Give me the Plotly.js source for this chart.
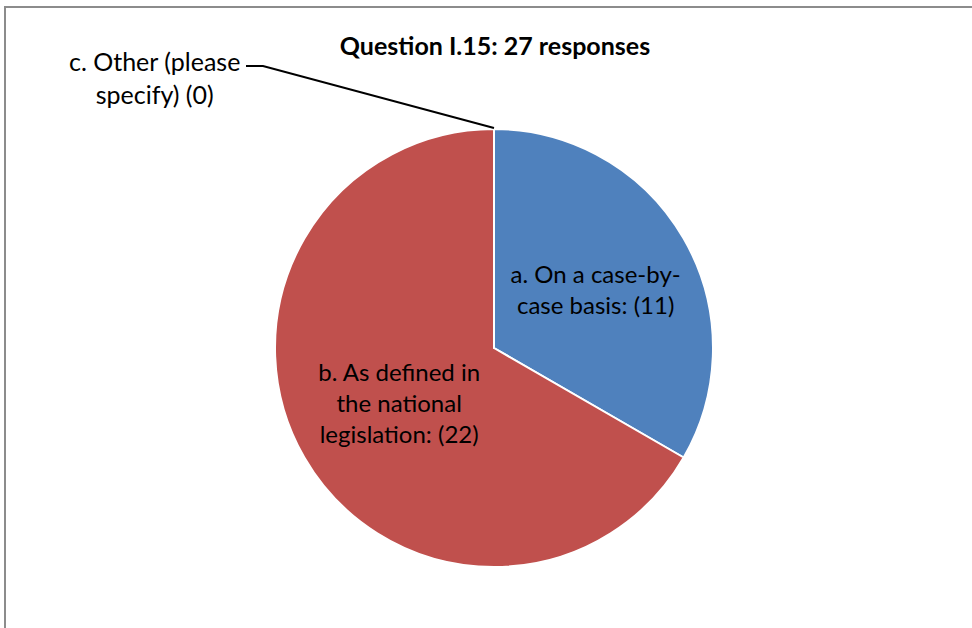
<!DOCTYPE html>
<html>
<head>
<meta charset="utf-8">
<script src="https://cdn.plot.ly/plotly-3.0.1.min.js"></script>
<style>
  html, body { margin: 0; padding: 0; background: #fff; }
  #chart { width: 972px; height: 628px; }
</style>
</head>
<body>
<div id="chart"></div>
<script>
// Question I.15 answers
const categories = ['a. On a case-by-case basis', 'b. As defined in the national legislation', 'c. Other (please specify)'];
const counts = [11, 22, 0];
const sliceText = ['a. On a case-by-<br>case basis: (11)', 'b. As defined in<br>the national<br>legislation: (22)', ''];
const otherLabel = 'c. Other (please<br>specify) (0)';
const chartTitle = 'Question I.15: 27 responses';

const W = 972, H = 628;
const px = (x) => x / W;
const py = (y) => 1 - y / H;
const FONT = 'Lato, "Open Sans", sans-serif';

const data = [{
    type: 'pie',
    labels: categories,
    values: counts,
    text: sliceText,
    textinfo: 'text',
    textposition: 'inside',
    insidetextorientation: 'horizontal',
    sort: false,
    direction: 'clockwise',
    rotation: 0,
    hoverinfo: 'label+value',
    marker: {
        colors: ['#4F81BD', '#C0504D', '#9BBB59'],
        line: { color: '#ffffff', width: 2 }
    },
    insidetextfont: { family: FONT, size: 24, color: '#000' },
    domain: { x: [px(275), px(713)], y: [py(567), py(129)] }
}];

const layout = {
    width: W,
    height: H,
    margin: { l: 0, r: 0, t: 0, b: 0 },
    paper_bgcolor: '#fff',
    showlegend: false,
    title: {
        text: '<b>' + chartTitle + '</b>',
        font: { family: FONT, size: 25, color: '#000' },
        x: px(495), xanchor: 'center',
        y: py(46), yanchor: 'middle',
        xref: 'paper', yref: 'paper'
    },
    annotations: [{
        text: otherLabel,
        x: px(154), y: py(77),
        xref: 'paper', yref: 'paper',
        xanchor: 'center', yanchor: 'middle',
        showarrow: false,
        align: 'center',
        font: { family: FONT, size: 25, color: '#000' }
    }],
    shapes: [
        // chart area border
        { type: 'rect', xref: 'paper', yref: 'paper',
          x0: px(5), x1: px(990), y0: py(7), y1: py(650),
          line: { color: '#8c8c8c', width: 2 }, fillcolor: 'rgba(0,0,0,0)' },
        // leader line for the empty slice
        { type: 'path', xref: 'paper', yref: 'paper',
          path: `M ${px(246)} ${py(66)} L ${px(263)} ${py(66)} L ${px(494)} ${py(128)}`,
          line: { color: '#000', width: 2 } }
    ]
};

Plotly.newPlot('chart', data, layout, { displayModeBar: false, staticPlot: true });
</script>
</body>
</html>
